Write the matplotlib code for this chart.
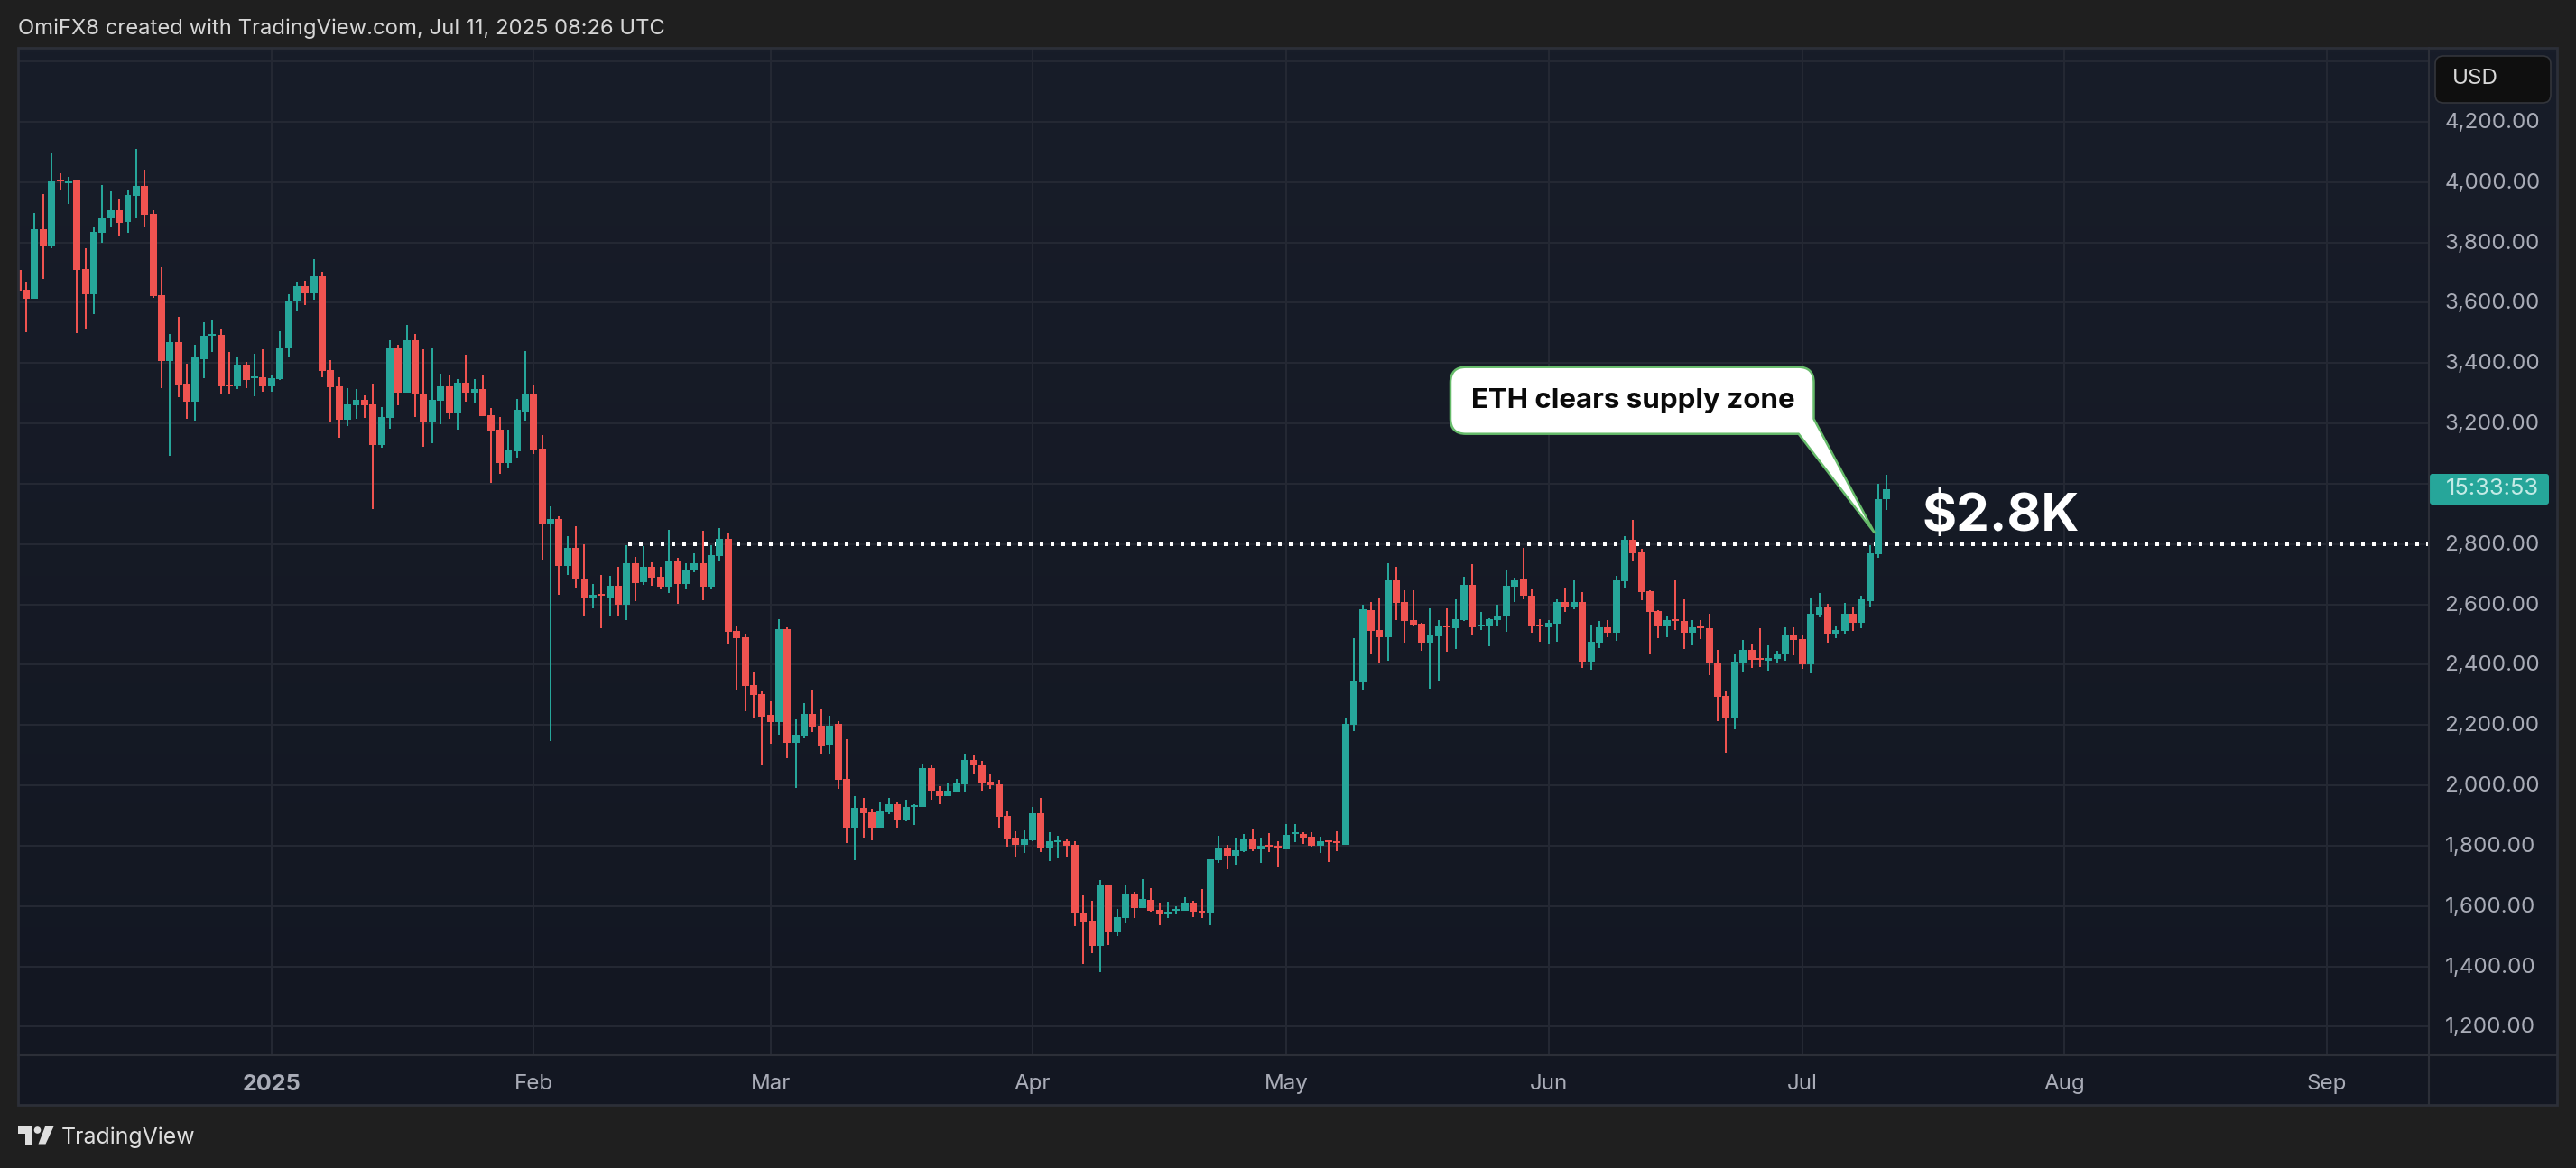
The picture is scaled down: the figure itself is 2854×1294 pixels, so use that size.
import matplotlib
matplotlib.use("Agg")
import numpy as np
import matplotlib.pyplot as plt
from matplotlib.patches import FancyBboxPatch, PathPatch, Polygon, Circle
from matplotlib.path import Path
from matplotlib.transforms import ScaledTranslation

plt.rcParams['font.family'] = ['Inter', 'DejaVu Sans']

# Daily ETH/USD candles, day 0 = 2 Dec 2024
opens = [3708, 3642, 3612, 3843, 3786, 4008, 3996, 4008, 3711, 3627, 3831, 3879, 3906, 3867, 3954, 3987,
         3894, 3624, 3408, 3468, 3333, 3273, 3414, 3489, 3492, 3330, 3324, 3396, 3351, 3354, 3324, 3348,
         3447, 3603, 3654, 3630, 3687, 3378, 3324, 3213, 3261, 3279, 3264, 3129, 3219, 3450, 3303, 3474,
         3300, 3207, 3276, 3324, 3234, 3336, 3303, 3315, 3228, 3180, 3069, 3108, 3240, 3297,
         3117, 2865, 2883, 2727, 2787, 2685, 2619, 2634, 2622, 2661, 2598, 2736, 2673, 2724, 2691, 2658,
         2742, 2667, 2712, 2736, 2658, 2760, 2817, 2511, 2490, 2331, 2301, 2235, 2211, 2517, 2142, 2166,
         2238, 2199, 2136, 2203, 2020, 1861, 1924, 1909, 1861, 1909, 1936, 1882, 1927, 1927, 2056, 1981,
         1963, 1978, 2002, 2083, 2068, 2011, 2002, 1897, 1828, 1804, 1819, 1906, 1792, 1813, 1816, 1804,
         1579, 1552, 1468, 1669, 1516, 1561, 1642, 1594, 1621, 1588, 1573, 1585, 1585, 1612, 1585, 1576,
         1753, 1795, 1768, 1783, 1822, 1789, 1804, 1801, 1789, 1840, 1839, 1830, 1800, 1818, 1815, 1803,
         2202, 2340, 2580, 2514, 2490, 2679, 2607, 2547, 2535, 2472, 2493, 2529, 2520, 2547, 2664, 2526,
         2526, 2547, 2559, 2658, 2682, 2628, 2532, 2523, 2535, 2607, 2589, 2607, 2409, 2472, 2523, 2505,
         2676, 2814, 2772, 2643, 2577, 2526, 2550, 2544, 2505, 2526, 2520, 2406, 2295, 2223, 2406, 2448,
         2421, 2412, 2418, 2433, 2499, 2484, 2400, 2565, 2589, 2502, 2511, 2568, 2538, 2610, 2766, 2949]
highs = [3762, 3669, 3897, 3960, 4095, 4029, 4017, 4008, 3780, 3852, 3990, 3969, 3945, 3972, 4110, 4041,
         3906, 3717, 3495, 3552, 3399, 3459, 3534, 3543, 3510, 3435, 3420, 3405, 3429, 3444, 3363, 3504,
         3627, 3669, 3672, 3744, 3702, 3411, 3354, 3318, 3315, 3294, 3333, 3255, 3474, 3459, 3525, 3495,
         3444, 3447, 3366, 3363, 3348, 3426, 3348, 3360, 3252, 3222, 3180, 3282, 3438, 3327,
         3162, 2925, 2892, 2826, 2859, 2799, 2667, 2697, 2694, 2724, 2796, 2757, 2793, 2739, 2724, 2847,
         2754, 2736, 2769, 2844, 2796, 2853, 2838, 2529, 2502, 2376, 2310, 2277, 2550, 2523, 2220, 2271,
         2316, 2256, 2232, 2212, 2152, 1963, 1957, 1921, 1945, 1957, 1942, 1951, 1936, 2071, 2068, 1996,
         2005, 2020, 2104, 2098, 2080, 2038, 2017, 1912, 1849, 1855, 1927, 1957, 1846, 1834, 1825, 1816,
         1639, 1618, 1687, 1669, 1591, 1669, 1648, 1690, 1660, 1612, 1615, 1600, 1630, 1618, 1657, 1756,
         1834, 1804, 1828, 1840, 1858, 1828, 1843, 1816, 1873, 1873, 1845, 1845, 1830, 1818, 1848, 2223,
         2487, 2598, 2607, 2622, 2736, 2724, 2646, 2646, 2538, 2586, 2547, 2586, 2616, 2691, 2733, 2574,
         2553, 2598, 2712, 2688, 2787, 2649, 2550, 2547, 2616, 2655, 2679, 2640, 2532, 2544, 2547, 2694,
         2826, 2880, 2784, 2646, 2580, 2559, 2679, 2616, 2547, 2547, 2568, 2448, 2313, 2436, 2481, 2469,
         2520, 2463, 2445, 2523, 2523, 2499, 2619, 2637, 2601, 2529, 2604, 2589, 2628, 2796, 3000, 3030]
lows = [3555, 3501, 3612, 3678, 3780, 3972, 3927, 3498, 3513, 3561, 3798, 3852, 3822, 3831, 3882, 3849,
        3615, 3318, 3093, 3288, 3216, 3210, 3351, 3435, 3297, 3297, 3315, 3318, 3291, 3306, 3306, 3345,
        3417, 3570, 3591, 3609, 3354, 3204, 3153, 3192, 3216, 3219, 2915, 3120, 3183, 3261, 3303, 3222,
        3123, 3135, 3198, 3216, 3180, 3273, 3267, 3225, 3003, 3033, 3051, 3087, 3210, 3099,
        2748, 2148, 2631, 2697, 2655, 2562, 2586, 2520, 2559, 2559, 2547, 2610, 2664, 2661, 2652, 2637,
        2601, 2652, 2706, 2613, 2649, 2745, 2469, 2316, 2247, 2223, 2070, 2139, 2169, 2091, 1990, 2155,
        2176, 2104, 2104, 1987, 1810, 1753, 1828, 1819, 1861, 1903, 1861, 1879, 1870, 1927, 1951, 1936,
        1963, 1978, 1978, 2038, 1981, 1987, 1861, 1798, 1765, 1777, 1816, 1780, 1750, 1759, 1762, 1534,
        1408, 1444, 1381, 1471, 1501, 1543, 1561, 1594, 1582, 1537, 1561, 1573, 1585, 1564, 1561, 1537,
        1744, 1723, 1738, 1780, 1783, 1744, 1780, 1732, 1789, 1813, 1806, 1797, 1776, 1746, 1782, 1803,
        2181, 2316, 2433, 2406, 2412, 2547, 2472, 2529, 2445, 2319, 2346, 2442, 2451, 2544, 2499, 2514,
        2460, 2526, 2508, 2607, 2616, 2505, 2475, 2469, 2475, 2574, 2583, 2388, 2382, 2454, 2490, 2478,
        2655, 2742, 2613, 2436, 2487, 2490, 2514, 2451, 2463, 2484, 2364, 2214, 2109, 2187, 2376, 2388,
        2391, 2379, 2403, 2412, 2430, 2385, 2370, 2556, 2472, 2487, 2502, 2511, 2520, 2589, 2754, 2913]
closes = [3639, 3612, 3843, 3786, 4005, 4002, 4005, 3708, 3627, 3834, 3882, 3906, 3864, 3957, 3987, 3891,
          3621, 3408, 3468, 3330, 3273, 3417, 3489, 3495, 3324, 3324, 3396, 3345, 3357, 3324, 3351, 3450,
          3606, 3654, 3630, 3687, 3375, 3321, 3213, 3264, 3279, 3261, 3129, 3222, 3450, 3303, 3474, 3297,
          3204, 3279, 3324, 3234, 3336, 3303, 3315, 3225, 3177, 3069, 3111, 3246, 3297, 3111,
          2865, 2883, 2727, 2787, 2682, 2619, 2631, 2628, 2661, 2598, 2736, 2670, 2724, 2688, 2658, 2742,
          2667, 2715, 2736, 2658, 2763, 2817, 2508, 2487, 2328, 2298, 2229, 2211, 2517, 2142, 2169, 2238,
          2196, 2133, 2199, 2017, 1861, 1924, 1906, 1861, 1912, 1936, 1885, 1927, 1933, 2056, 1981, 1963,
          1981, 2005, 2083, 2065, 2008, 1999, 1894, 1825, 1804, 1822, 1906, 1792, 1816, 1819, 1801, 1576,
          1549, 1468, 1669, 1516, 1564, 1642, 1594, 1624, 1585, 1573, 1582, 1591, 1612, 1582, 1576, 1756,
          1795, 1768, 1786, 1822, 1789, 1801, 1798, 1795, 1837, 1846, 1827, 1800, 1815, 1812, 1809, 2205,
          2343, 2583, 2511, 2490, 2679, 2604, 2544, 2532, 2472, 2496, 2526, 2523, 2550, 2664, 2523, 2532,
          2550, 2562, 2661, 2679, 2628, 2526, 2526, 2538, 2607, 2589, 2607, 2409, 2475, 2523, 2505, 2679,
          2814, 2769, 2640, 2574, 2526, 2547, 2544, 2505, 2523, 2520, 2403, 2292, 2223, 2409, 2448, 2415,
          2415, 2421, 2436, 2499, 2481, 2400, 2568, 2589, 2502, 2514, 2568, 2538, 2616, 2769, 2949, 2982]

price_ticks = [1200, 1400, 1600, 1800, 2000, 2200, 2400, 2600, 2800, 3000, 3200, 3400, 3600, 3800, 4000, 4200, 4400]
price_labels = ['1,200.00', '1,400.00', '1,600.00', '1,800.00', '2,000.00', '2,200.00', '2,400.00', '2,600.00',
                '2,800.00', '', '3,200.00', '3,400.00', '3,600.00', '3,800.00', '4,000.00', '4,200.00', '']
month_days = [30, 61, 89, 120, 150, 181, 211, 242, 273]
month_labels = ['2025', 'Feb', 'Mar', 'Apr', 'May', 'Jun', 'Jul', 'Aug', 'Sep']
level_price = 2800
level_start_day = 72.2

W, H = 2854, 1294
PANEL_L, PANEL_R, PANEL_T, PANEL_B = 20, 2833, 53, 1224
PLOT_R, PLOT_B = 2691, 1168.7
DAY_PX, DAY0_PX = 9.37, 19.7
USD_PX, PX_2800 = 0.3342, 602.7

FRAME = '#2c2f38'
GRID = '#242833'
GREEN = '#26a69a'
RED = '#ef5350'
TICK_COL = '#a9acb7'

fig = plt.figure(figsize=(W / 100, H / 100), dpi=100, facecolor='#1f1f1f')

# pixel space layer under the chart, for the panel background
bg = fig.add_axes([0, 0, 1, 1], zorder=0)
grad = np.linspace(0, 1, 256).reshape(-1, 1, 1)
top_col = np.array([0x18, 0x1d, 0x29]) / 255
bot_col = np.array([0x13, 0x17, 0x22]) / 255
bg.imshow(top_col + (bot_col - top_col) * grad, extent=(PANEL_L, PANEL_R, PANEL_B, PANEL_T), aspect='auto')
bg.set_xlim(0, W)
bg.set_ylim(H, 0)
bg.axis('off')

ax = fig.add_axes([PANEL_L / W, 1 - PLOT_B / H, (PLOT_R - PANEL_L) / W, (PLOT_B - PANEL_T) / H], zorder=1)
ax.patch.set_visible(False)
ax.set_xlim((PANEL_L - DAY0_PX) / DAY_PX, (PLOT_R - DAY0_PX) / DAY_PX)
ax.set_ylim(2800 + (PX_2800 - PLOT_B) / USD_PX, 2800 + (PX_2800 - PANEL_T) / USD_PX)
for s in ax.spines.values():
    s.set_visible(False)

ax.set_axisbelow(True)
ax.grid(True, color=GRID, linewidth=1.44)
ax.yaxis.tick_right()
ax.set_yticks(price_ticks, price_labels, fontsize=17.4, color=TICK_COL)
ax.set_xticks(month_days, month_labels, fontsize=17.4, color=TICK_COL)
ax.tick_params(axis='both', length=0)
ax.tick_params(axis='y', pad=12.5)
ax.tick_params(axis='x', pad=15)
ax.get_xticklabels()[0].set_fontweight('bold')
ax.get_xticklabels()[0].set_fontsize(18.2)

# nudge the price labels up a little
nudge = ScaledTranslation(0, 1.5 / 100, fig.dpi_scale_trans)
for lab in ax.get_yticklabels():
    lab.set_transform(lab.get_transform() + nudge)

ax.plot([level_start_day, ax.get_xlim()[1]], [level_price, level_price], color='white', lw=2.88,
        dashes=(1, 2), dash_capstyle='butt', zorder=2)

days = np.arange(len(opens))
o, h, l, c = map(np.array, (opens, highs, lows, closes))
colors = np.where(c >= o, GREEN, RED)
ax.vlines(days, l, h, colors=colors, linewidth=1.44, zorder=3)
ax.bar(days, np.abs(c - o), bottom=np.minimum(o, c), width=0.85, color=colors, linewidth=0, zorder=3)

# pixel space layer on top: frame, labels, callout
top = fig.add_axes([0, 0, 1, 1], zorder=2)
top.patch.set_visible(False)
top.set_xlim(0, W)
top.set_ylim(H, 0)
top.axis('off')

top.add_patch(plt.Rectangle((PANEL_L, PANEL_T), PANEL_R - PANEL_L, PANEL_B - PANEL_T, fill=False, edgecolor=FRAME, lw=2))
top.plot([PLOT_R, PLOT_R], [PANEL_T, PANEL_B], color=FRAME, lw=1.5)
top.plot([PANEL_L, PANEL_R], [PLOT_B, PLOT_B], color=FRAME, lw=1.5)

top.text(20, 32, 'OmiFX8 created with TradingView.com, Jul 11, 2025 08:26 UTC', color='#d6d6d6',
         fontsize=17.15, va='center', ha='left')

# USD button
top.add_patch(FancyBboxPatch((2698, 62), 128, 52, boxstyle='round,pad=0,rounding_size=9',
                             facecolor='#0f0f0f', edgecolor='#33353b', lw=1.2))
top.text(2717, 87, 'USD', color='#d8d8d8', fontsize=17.4, va='center', ha='left')

# countdown label
top.add_patch(FancyBboxPatch((2692, 525), 132, 34, boxstyle='round,pad=0,rounding_size=3',
                             facecolor=GREEN, edgecolor='none'))
top.text(2710, 541.5, '15:33:53', color='#c4ebe6', fontsize=18.4, va='center', ha='left')

# callout with tail
L, R, T, B, r = 1607, 2009.5, 406.7, 480.7, 17
tip = (2076.6, 590)
verts = [(L + r, T), (R - r, T), (R, T), (R, T + r), (R, 464), tip, (1992.7, B), (L + r, B), (L, B), (L, B - r),
         (L, T + r), (L, T), (L + r, T), (L + r, T)]
codes = [Path.MOVETO, Path.LINETO, Path.CURVE3, Path.CURVE3, Path.LINETO, Path.LINETO, Path.LINETO, Path.LINETO,
         Path.CURVE3, Path.CURVE3, Path.LINETO, Path.CURVE3, Path.CURVE3, Path.CLOSEPOLY]
top.add_patch(PathPatch(Path(verts, codes), facecolor='white', edgecolor='#66bb6a', lw=1.8, joinstyle='round'))
top.text(1809, 444.5, 'ETH clears supply zone', color='#0a0a0a', fontsize=22.5, fontweight='bold', va='center', ha='center')

top.text(2130, 573.5, '$2.8K', color='white', fontsize=42, fontweight='bold', va='center', ha='left')

# TradingView logo
LOGO = '#dedede'
top.add_patch(Polygon([(20, 1248), (35.5, 1248), (35.5, 1267.5), (27.5, 1267.5), (27.5, 1256), (20, 1256)], color=LOGO, lw=0))
top.add_patch(Circle((41.5, 1252), 3.8, color=LOGO, lw=0))
top.add_patch(Polygon([(50, 1248), (59.5, 1248), (50.5, 1267.5), (42.5, 1267.5)], color=LOGO, lw=0))
top.text(68, 1260, 'TradingView', color=LOGO, fontsize=17.9, va='center', ha='left')

fig.savefig('out.png', dpi=100, facecolor=fig.get_facecolor())
